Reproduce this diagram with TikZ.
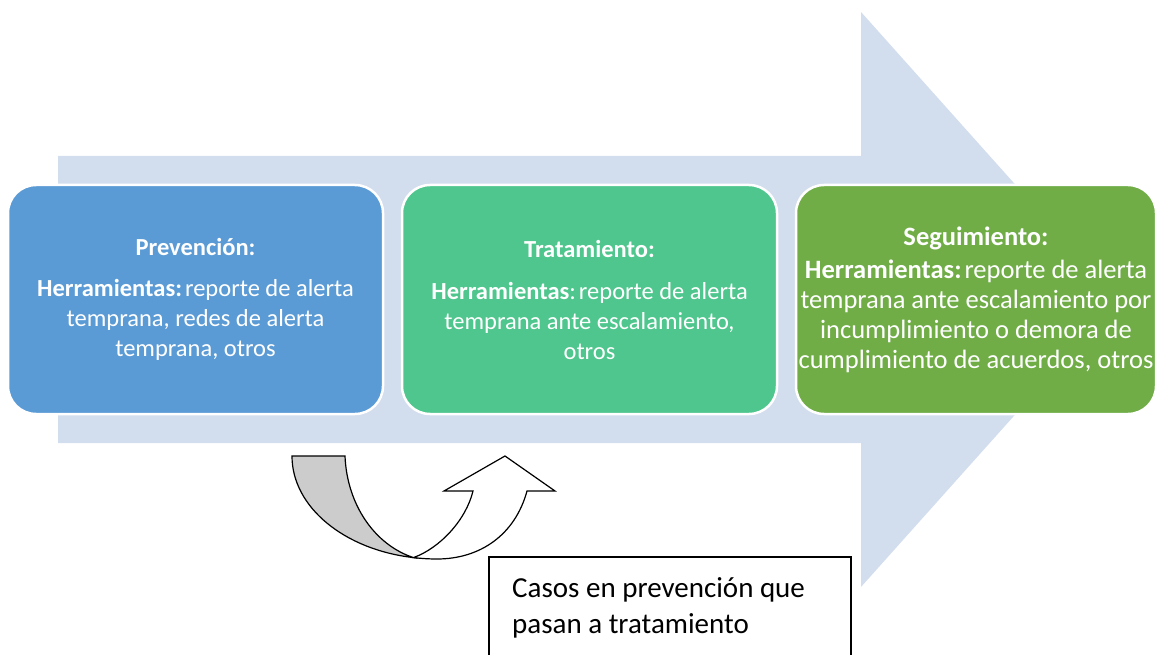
\documentclass[tikz,border=0pt]{standalone}
\usepackage{fontspec}
\setmainfont{Carlito}
\definecolor{arrowbg}{HTML}{D2DDEE}
\definecolor{prevblue}{HTML}{5B9BD5}
\definecolor{tratteal}{HTML}{4EC68D}
\definecolor{seggreen}{HTML}{70AD47}
\definecolor{tailgray}{HTML}{CCCCCC}
\newcommand{\hsp}{\hspace{3pt}}
\begin{document}
\begin{tikzpicture}[x=1pt,y=-1pt,
  stage/.style={rounded corners=28pt, draw=white, line width=2.5pt,
    minimum height=229pt, align=center, text=white, inner sep=0pt,
    font=\fontsize{24.5}{30}\selectfont},
  curvedarrow/.style={draw=black, line width=1.2pt, line join=miter},
  casostext/.style={anchor=base west, inner sep=0pt, font=\fontsize{29}{36}\selectfont}
]
\useasboundingbox (0,0) rectangle (1157,655);
\clip (0,0) rectangle (1157,655);
% big background arrow
\fill[arrowbg] (58,156) -- (861,156) -- (861,12) -- (1118,299.5) -- (861,587)
  -- (861,443) -- (58,443) -- cycle;
% stage boxes
\node[stage, fill=prevblue, minimum width=375pt] (prev) at (195.5,299.5)
  {\textbf{Prevención:}\\[11pt]\textbf{Herramientas:}\hsp reporte de alerta\\temprana, redes de alerta\\temprana, otros};
\node[stage, fill=tratteal, minimum width=375pt] (trat) at (589.5,299.5)
  {\textbf{Tratamiento:}\\[12pt]\textbf{Herramientas}:\hsp reporte de alerta\\temprana ante escalamiento,\\otros};
\node[stage, fill=seggreen, minimum width=360pt, font=\fontsize{26.5}{30}\selectfont] (seg) at (976,299.5)
  {\textbf{Seguimiento:}\\[3pt]\textbf{Herramientas:}\hsp reporte de alerta\\temprana ante escalamiento por\\incumplimiento o demora de\\cumplimiento de acuerdos, otros};
% curved up arrow: white head part
\filldraw[curvedarrow, fill=white]
  (413.5,557.6) .. controls (440,548) and (466,520) .. (473,491)
  -- (444,491) -- (505,456) -- (555,491) -- (527,491)
  .. controls (515,535) and (480,559) .. (437,559)
  .. controls (429,559) and (421.15,558.5) .. (413.5,557.6) -- cycle;
% gray tail
\filldraw[curvedarrow, fill=tailgray]
  (292,456) -- (345,456)
  .. controls (347,505) and (375,545) .. (413.5,557.6)
  .. controls (344.65,549.7) and (292,507.3) .. (292,456) -- cycle;
% caption box
\draw[line width=1.3pt, fill=white] (489,557) rectangle (851,680);
\node[casostext] (casosA) at (512,597) {Casos en prevención que};
\node[casostext] (casosB) at (512,633) {pasan a tratamiento};
\end{tikzpicture}
\end{document}
